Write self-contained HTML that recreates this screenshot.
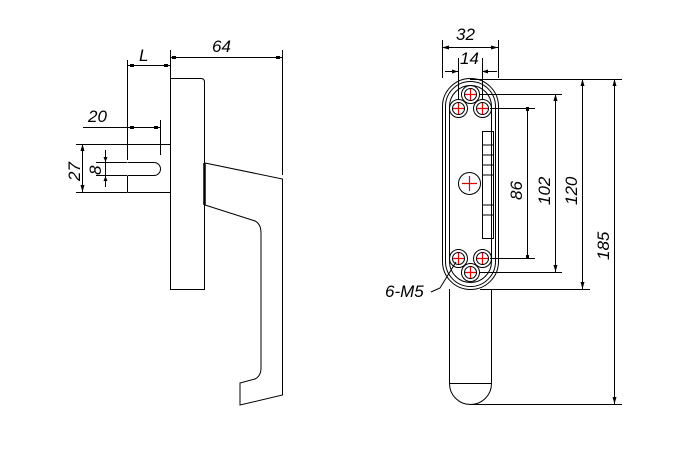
<!DOCTYPE html>
<html><head><style>body{margin:0;background:#fff}svg{display:block}text{font-family:"Liberation Sans",sans-serif;font-style:italic;font-size:17px;fill:#000}</style></head><body>
<svg width="675" height="451" viewBox="0 0 675 451" xmlns="http://www.w3.org/2000/svg">
<g stroke="#000" stroke-width="1" fill="none">
<!-- side view plate -->
<path d="M170.5 78.5 H201 Q204.5 78.5 204.5 82 V289.5 H170.5 Z"/>
<line x1="204.5" y1="163" x2="204.5" y2="205" stroke-width="2.5"/>
<path d="M205 163 L282.5 179 V395 L240 405 V383 L255 379 Q261 376 261 368 V233 Q261 222 252 220 L205 205"/>
<!-- spindle -->
<path d="M127.5 144.5 H170 M127.5 192.5 H170 M127.5 144.5 V160 M127.5 176 V192.5 M127.5 162.5 H154 A6.5 6.5 0 0 1 154 175.5 H127.5"/>
<!-- dims left -->
<path d="M127.5 60 V160 M170.5 50 V78 M282.5 50 V175 M160.5 120 V155"/>
<path d="M127 65.5 H170 M170 57.5 H282 M83 127.5 H160"/>
<path d="M76 144.5 H127 M76 192.5 H127 M82.5 144 V192 M96 162.5 H127 M96 175.5 H127 M105.5 150 V187"/>
</g>
<g fill="#000">
<rect x="130" y="64" width="4" height="3"/><rect x="164" y="64" width="4" height="3"/>
<rect x="172" y="56" width="4" height="3"/><rect x="276" y="56" width="4" height="3"/>
<rect x="130" y="126" width="4" height="3"/><rect x="154" y="126" width="4" height="3"/>
<path d="M82.5 144 l-2 7 h4z M82.5 192 l-2 -7 h4z M105.5 162 l-2 -5 h4z M105.5 176 l-2 5 h4z"/>
</g>
<text x="139" y="61">L</text>
<text x="212" y="52">64</text>
<text x="88" y="122">20</text>
<text transform="translate(80 181) rotate(-90)">27</text>
<text transform="translate(101 175) rotate(-90)">8</text>

<!-- front view -->
<g stroke="#000" stroke-width="1" fill="none">
<rect x="442.5" y="78.5" width="56" height="211" rx="28"/>
<rect x="445.5" y="81.5" width="50" height="205" rx="25"/>
<rect x="449.5" y="85.5" width="42" height="197" rx="21"/>
<path d="M449.5 289 V383.5 A21 21 0 0 0 491.5 383.5 V289 M449.5 383.5 H491.5"/>
<rect x="482.5" y="131.5" width="11" height="107"/>
<path d="M482.5 145 H493 M482.5 155 H493 M482.5 165 H493 M482.5 175 H493 M482.5 205 H493 M482.5 215 H493"/>
<circle cx="470.5" cy="94.5" r="9"/><circle cx="458.5" cy="108.5" r="9"/><circle cx="482.5" cy="108.5" r="9"/>
<circle cx="469.5" cy="183.5" r="11"/>
<circle cx="458.5" cy="258.5" r="9"/><circle cx="482.5" cy="258.5" r="9"/><circle cx="470.5" cy="272.5" r="9"/>
<circle cx="470.5" cy="94.5" r="6"/><circle cx="458.5" cy="108.5" r="6"/><circle cx="482.5" cy="108.5" r="6"/>
<circle cx="458.5" cy="258.5" r="6"/><circle cx="482.5" cy="258.5" r="6"/><circle cx="470.5" cy="272.5" r="6"/>
<!-- dims -->
<path d="M442.5 40 V78 M498.5 40 V78 M442 47.5 H498 M458.5 58 V100 M482.5 58 V100 M445 71.5 H458 M482 71.5 H497"/>
<path d="M490 108.5 H535 M490 258.5 H535 M527.5 108 V258"/>
<path d="M480 94.5 H562 M480 272.5 H562 M555.5 94 V272"/>
<path d="M470 79.5 H622 M480 289.5 H590 M582.5 79 V289"/>
<path d="M470 404.5 H622 M614.5 79 V404"/>
<path d="M431 292 L440 288 L456 262"/>
</g>
<g stroke="#e00000" stroke-width="1.2">
<path d="M465 94.5h11M470.5 89v11 M453 108.5h11M458.5 103v11 M477 108.5h11M482.5 103v11 M462 183.5h15M469.5 176v15 M453 258.5h11M458.5 253v11 M477 258.5h11M482.5 253v11 M465 272.5h11M470.5 267v11"/>
</g>
<g fill="#000">
<path d="M442 47.5 l7 -2 v4z M498 47.5 l-7 -2 v4z M458 71.5 l-6 -2 v4z M482 71.5 l6 -2 v4z"/>
<rect x="526" y="107" width="3" height="4"/><rect x="526" y="255" width="3" height="4"/>
<path d="M555.5 94 l-2 7 h4z M555.5 272 l-2 -7 h4z M582.5 79 l-2 7 h4z M582.5 289 l-2 -7 h4z M614.5 79 l-2 7 h4z M614.5 404 l-2 -7 h4z"/>
</g>
<text x="456" y="40">32</text>
<text x="460" y="64">14</text>
<text transform="translate(522 200) rotate(-90)">86</text>
<text transform="translate(550 205) rotate(-90)">102</text>
<text transform="translate(577 205) rotate(-90)">120</text>
<text transform="translate(609 260) rotate(-90)">185</text>
<text x="385" y="297">6-M5</text>
</svg>
</body></html>
